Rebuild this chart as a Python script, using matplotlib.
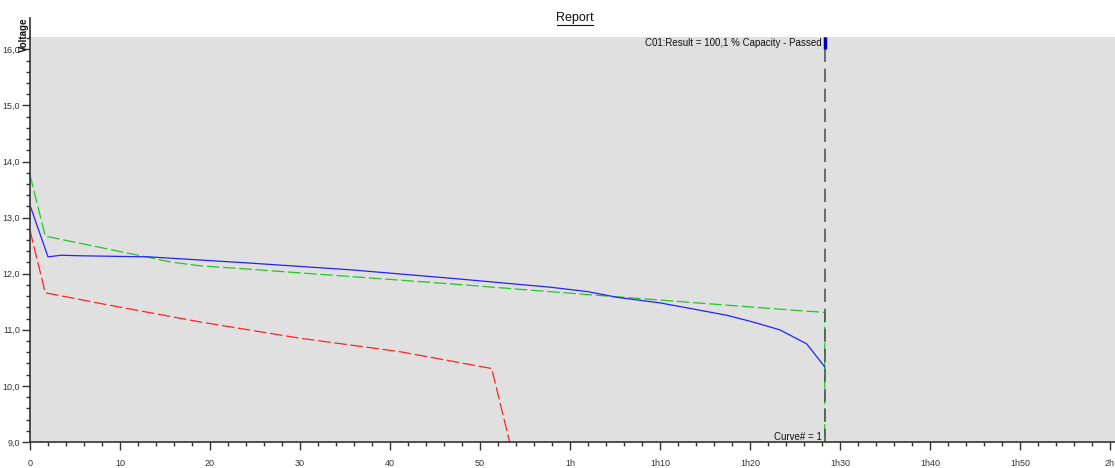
import matplotlib
matplotlib.use('Agg')
import matplotlib.pyplot as plt
from matplotlib.ticker import MultipleLocator
from matplotlib.lines import Line2D

plt.rcParams['font.family'] = ['Liberation Sans', 'DejaVu Sans']

# 時間（分）と電圧
blue_t = [0, 2, 3.5, 5.5, 13.3, 24.4, 35.6, 46.7, 57.8, 62, 65.2, 70, 74.4, 77.4, 80.3, 83.3, 86.3, 88.3]
blue_v = [13.22, 12.30, 12.33, 12.32, 12.30, 12.19, 12.07, 11.92, 11.76, 11.68, 11.58, 11.48, 11.35, 11.26, 11.14, 11.00, 10.75, 10.34]

green_t = [0, 1.7, 12.6, 15.6, 18.9, 24.4, 35.6, 46.7, 57.8, 70, 77.4, 84.8, 88.3, 88.3]
green_v = [13.76, 12.67, 12.31, 12.21, 12.14, 12.08, 11.95, 11.82, 11.68, 11.53, 11.44, 11.35, 11.31, 8.0]

red_t = [0, 1.7, 7.8, 18.9, 30, 41.1, 51.3, 53.6]
red_v = [12.77, 11.66, 11.47, 11.14, 10.85, 10.61, 10.31, 8.8]

cursor_t = 88.3
x_ticks = [0, 10, 20, 30, 40, 50, 60, 70, 80, 90, 100, 110, 120]
x_labels = ['0', '10', '20', '30', '40', '50', '1h', '1h10', '1h20', '1h30', '1h40', '1h50', '2h']
y_ticks = [9, 10, 11, 12, 13, 14, 15, 16]
y_labels = ['9,0', '10,0', '11,0', '12,0', '13,0', '14,0', '15,0', '16,0']
result_text = 'C01:Result = 100,1 % Capacity - Passed'
curve_text = 'Curve# = 1'

W, H = 1115, 468
fig = plt.figure(figsize=(W / 100, H / 100), dpi=100)
ax = fig.add_axes([30 / W, 26 / H, (W - 30) / W, 405 / H])
ax.set_facecolor('#e0e0e0')

ax.plot(green_t, green_v, color='#22c822', lw=0.9, dashes=(10, 3))
ax.plot(red_t, red_v, color='#ff2222', lw=0.9, dashes=(10, 3))
ax.plot(blue_t, blue_v, color='#2222ff', lw=0.9)

# カーソル線
ax.axvline(cursor_t, color='#555555', lw=1.2, dashes=(8, 4))
ax.plot([cursor_t, cursor_t], [16.0, 16.22], color='#0000b0', lw=2.5, solid_capstyle='butt')

ax.text(cursor_t - 0.3, 16.11, result_text, ha='right', va='center', fontsize=7, color='#111111')
ax.text(cursor_t - 0.3, 9.09, curve_text, ha='right', va='center', fontsize=7, color='#111111')

ax.set_xlim(0, (W - 30) / 9)
ax.set_ylim(9.0, 16.22)
ax.set_xticks(x_ticks)
ax.set_xticklabels(x_labels)
ax.set_yticks(y_ticks)
ax.set_yticklabels(y_labels)
ax.xaxis.set_minor_locator(MultipleLocator(2))
ax.yaxis.set_minor_locator(MultipleLocator(0.2))
ax.tick_params(which='major', length=6, width=1, color='#333333', labelsize=6.5, labelcolor='#333333')
ax.tick_params(which='minor', length=3, width=1, color='#333333')
ax.tick_params(axis='x', which='major', pad=6)
ax.tick_params(axis='y', which='major', pad=1)

for s in ['top', 'right']:
    ax.spines[s].set_visible(False)
ax.spines['left'].set_color('#333333')
ax.spines['bottom'].set_color('#333333')
ax.spines['left'].set_linewidth(1.2)
ax.spines['bottom'].set_linewidth(1.2)

# 縦軸の延長とラベル
fig.add_artist(Line2D([30 / W, 30 / W], [(H - 37) / H, (H - 18) / H], color='#333333', lw=1.2))
fig.text(24 / W, (H - 18) / H, 'Voltage', rotation=90, ha='center', va='top', fontsize=7, fontweight='bold', color='#111111')

# タイトル（下線付き）
fig.text(575 / W, (H - 18) / H, 'Report', ha='center', va='center', fontsize=9, color='#111111')
fig.add_artist(Line2D([557 / W, 593 / W], [(H - 25) / H, (H - 25) / H], color='#111111', lw=0.8))

fig.savefig('out.png', dpi=100)
